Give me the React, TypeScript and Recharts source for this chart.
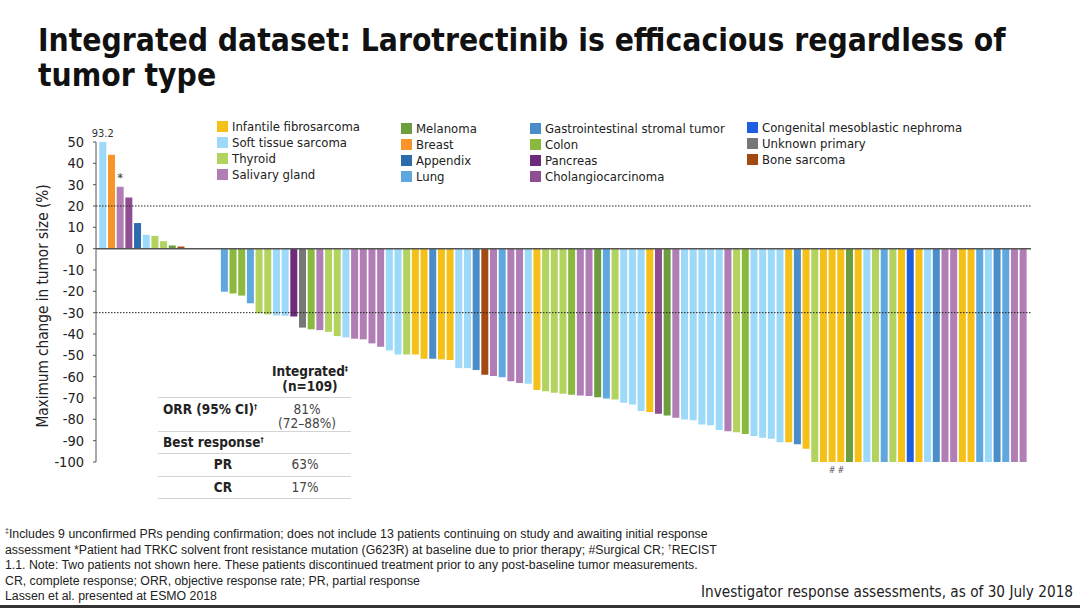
import React from 'react';
import { BarChart, Bar, XAxis, YAxis, Cell, ReferenceLine, LabelList } from 'recharts';

const FONT = '"DejaVu Sans Condensed", "DejaVu Sans", sans-serif';
const NARROW = '"Liberation Sans Narrow", "Liberation Sans", sans-serif';

// Tumour types and their swatch colours.
const tumorTypes: Record<string, { name: string; color: string }> = {
  IFS: { name: 'Infantile fibrosarcoma', color: '#F5C118' },
  STS: { name: 'Soft tissue sarcoma', color: '#9DD9F8' },
  THY: { name: 'Thyroid', color: '#B2D35E' },
  SAL: { name: 'Salivary gland', color: '#B07DB5' },
  MEL: { name: 'Melanoma', color: '#6C9E3F' },
  BRE: { name: 'Breast', color: '#F7952B' },
  APP: { name: 'Appendix', color: '#2D6BAF' },
  LUN: { name: 'Lung', color: '#5FA8DD' },
  GIST: { name: 'Gastrointestinal stromal tumor', color: '#4A8DC8' },
  COL: { name: 'Colon', color: '#8AB93E' },
  PAN: { name: 'Pancreas', color: '#6E2B7B' },
  CHO: { name: 'Cholangiocarcinoma', color: '#8F4E92' },
  CMN: { name: 'Congenital mesoblastic nephroma', color: '#1E5FE2' },
  UNK: { name: 'Unknown primary', color: '#777777' },
  BON: { name: 'Bone sarcoma', color: '#A24A12' },
};

const legendColumns = [
  ['IFS', 'STS', 'THY', 'SAL'],
  ['MEL', 'BRE', 'APP', 'LUN'],
  ['GIST', 'COL', 'PAN', 'CHO'],
  ['CMN', 'UNK', 'BON'],
];

// Maximum change in tumour size (%), one per patient, waterfall order.
const changeValues = [
  93.2, 44, 29, 24, 12, 6.5, 6, 3.5, 1.5, 1,
  0, 0, 0, 0,
  -20.2, -21, -22, -25.6, -30.3, -30.8, -31.3, -31.5, -31.8, -37,
  -37.8, -38.2, -39, -41, -41.6, -42.2, -42.5, -44.4, -46, -47.7,
  -49.6, -49.6, -49.6, -51.6, -51.6, -51.9, -52.2, -56, -56, -56.9,
  -59.1, -59.7, -60.3, -62.1, -63, -63.3, -66.3, -66.8, -67.5, -68,
  -68.5, -68.8, -69.1, -69.7, -70.2, -70.7, -72.2, -73, -76.1, -76.6,
  -77.4, -78.2, -79.3, -80.1, -80.4, -82.4, -82.8, -85, -85.6, -86,
  -86.9, -87.8, -88.6, -89.1, -90.7, -90.7, -91.7, -93.8, -100, -100,
  -100, -100, -100, -100, -100, -100, -100, -100, -100, -100,
  -100, -100, -100, -100, -100, -100, -100, -100, -100, -100,
  -100, -100, -100,
];

const tumorCodes = [
  'STS', 'BRE', 'SAL', 'CHO', 'APP', 'STS', 'THY', 'THY', 'MEL', 'BON',
  'STS', 'STS', 'STS', 'STS',
  'LUN', 'COL', 'COL', 'LUN', 'THY', 'THY', 'STS', 'STS', 'PAN', 'UNK',
  'COL', 'SAL', 'THY', 'THY', 'STS', 'SAL', 'SAL', 'SAL', 'SAL', 'STS',
  'STS', 'THY', 'IFS', 'IFS', 'GIST', 'IFS', 'IFS', 'STS', 'STS', 'GIST',
  'BON', 'SAL', 'LUN', 'SAL', 'SAL', 'STS', 'IFS', 'THY', 'THY', 'THY',
  'COL', 'SAL', 'SAL', 'MEL', 'LUN', 'THY', 'STS', 'STS', 'STS', 'IFS',
  'CHO', 'MEL', 'SAL', 'STS', 'STS', 'STS', 'STS', 'STS', 'SAL', 'THY',
  'COL', 'STS', 'STS', 'STS', 'STS', 'IFS', 'GIST', 'IFS', 'THY', 'IFS',
  'IFS', 'IFS', 'MEL', 'IFS', 'STS', 'THY', 'LUN', 'THY', 'IFS', 'CMN',
  'IFS', 'STS', 'GIST', 'SAL', 'SAL', 'IFS', 'IFS', 'LUN', 'STS', 'GIST',
  'LUN', 'SAL', 'SAL',
];

// Annotations: patient index -> text
const topMarks: Record<number, string> = { 0: '93.2', 2: '*' };
const bottomMarks: Record<number, string> = { 84: '#', 85: '#' };

const yTicks = [50, 40, 30, 20, 10, 0, -10, -20, -30, -40, -50, -60, -70, -80, -90, -100];
const Y_MAX = 50;
const Y_MIN = -100;

const chartData = changeValues.map((v, i) => ({
  id: String(i + 1),
  value: v,
  shown: Math.min(v, Y_MAX), // bars above the axis max are drawn to the top
  code: tumorCodes[i],
  top: topMarks[i] ?? '',
  bottom: bottomMarks[i] ?? '',
}));

const supStyle: React.CSSProperties = { fontSize: 7, lineHeight: 0, verticalAlign: 'super' };

const footnotes = [
  <><span style={supStyle}>‡</span>Includes 9 unconfirmed PRs pending confirmation; does not include 13 patients continuing on study and awaiting initial response</>,
  <>assessment *Patient had TRKC solvent front resistance mutation (G623R) at baseline due to prior therapy; #Surgical CR; <span style={supStyle}>†</span>RECIST</>,
  <>1.1. Note: Two patients not shown here. These patients discontinued treatment prior to any post-baseline tumor measurements.</>,
  <>CR, complete response; ORR, objective response rate; PR, partial response</>,
  <>Lassen et al. presented at ESMO 2018</>,
];

const TopMark = (props: any) => {
  const { x, y, width, height, value } = props;
  if (!value) return null;
  const top = Math.min(y, y + height);
  return (
    <text x={x + width / 2} y={top - 5} textAnchor="middle" fontSize={value === '*' ? 13 : 11} fill="#333" fontFamily={FONT}>
      {value}
    </text>
  );
};

const BottomMark = (props: any) => {
  const { x, y, width, height, value } = props;
  if (!value) return null;
  const bottom = Math.max(y, y + height);
  return (
    <text x={x + width / 2} y={bottom + 11} textAnchor="middle" fontSize={9} fill="#555" fontFamily={FONT}>
      {value}
    </text>
  );
};

const YLabel = (props: any) => {
  const vb = props.viewBox;
  const cx = vb.x + 43;
  const cy = vb.y + vb.height / 2 + 4;
  return (
    <text x={cx} y={cy} transform={`rotate(-90, ${cx}, ${cy})`} textAnchor="middle" dominantBaseline="central" fontSize={15.2} fill="#222" fontFamily={FONT}>
      Maximum change in tumor size (%)
    </text>
  );
};

const legendLeft = [217, 401, 530, 747];
const legendTop = [118, 120, 120, 119];

function Legend() {
  return (
    <>
      {legendColumns.map((col, ci) => (
        <div key={ci} style={{ position: 'absolute', left: legendLeft[ci], top: legendTop[ci] }}>
          {col.map((k) => (
            <div key={k} style={{ display: 'flex', alignItems: 'center', height: 16, fontFamily: FONT, fontSize: 13, color: '#222', whiteSpace: 'nowrap' }}>
              <span style={{ display: 'inline-block', width: 11, height: 11, background: tumorTypes[k].color, marginRight: 4 }} />
              {tumorTypes[k].name}
            </div>
          ))}
        </div>
      ))}
    </>
  );
}

function Table() {
  const line = (top: number) => (
    <div style={{ position: 'absolute', left: 158, top, width: 193, height: 1, background: '#d4d4d4' }} />
  );
  const cell = (text: React.ReactNode, left: number, top: number, bold: boolean, align: 'left' | 'center' = 'left', width = 120) => (
    <div style={{ position: 'absolute', left, top: top - 8, width, height: 16, lineHeight: '16px', textAlign: align, fontFamily: FONT, fontSize: 13.5, fontWeight: bold ? 700 : 400, color: bold ? '#222' : '#444', whiteSpace: 'nowrap' }}>
      {text}
    </div>
  );
  return (
    <div style={{ position: 'absolute', left: 0, top: 0 }}>
      {cell(<>Integrated<span style={supStyle}>‡</span></>, 250, 371, true, 'center')}
      {cell('(n=109)', 250, 386, true, 'center')}
      {line(397)}
      {cell(<>ORR (95% CI)<span style={supStyle}>†</span></>, 163, 409, true)}
      {cell('81%', 247, 409, false, 'center')}
      {cell('(72–88%)', 247, 423, false, 'center')}
      {line(431)}
      {cell(<>Best response<span style={supStyle}>†</span></>, 163, 442, true)}
      {line(453)}
      {cell('PR', 163, 464, true, 'center', 120)}
      {cell('63%', 245, 464, false, 'center')}
      {line(476)}
      {cell('CR', 163, 487, true, 'center', 120)}
      {cell('17%', 245, 487, false, 'center')}
      {line(498)}
    </div>
  );
}

export default function App() {
  return (
    <div style={{ position: 'absolute', left: 0, top: 0, width: 1080, height: 608, background: '#fff', overflow: 'hidden' }}>
      <div style={{ position: 'absolute', left: 38, top: 23, fontFamily: FONT, fontWeight: 700, fontSize: 31.5, lineHeight: '35px', color: '#111', whiteSpace: 'nowrap' }}>
        Integrated dataset: Larotrectinib is efficacious regardless of
        <br />
        tumor type
      </div>

      <div style={{ position: 'absolute', left: 0, top: 0 }}>
        <BarChart width={1080} height={608} data={chartData} margin={{ top: 142, right: 49, bottom: 146, left: 0 }} barCategoryGap="7%">
          <XAxis dataKey="id" hide padding={{ left: 2.7, right: 3.3 }} />
          <YAxis
            width={96}
            domain={[Y_MIN, Y_MAX]}
            ticks={yTicks}
            allowDataOverflow
            interval={0}
            tickSize={3}
            tickMargin={9}
            axisLine={{ stroke: '#555' }}
            tickLine={{ stroke: '#555' }}
            tick={{ fontSize: 14.5, fill: '#222', fontFamily: FONT }}
            label={<YLabel />}
          />
          <Bar dataKey="shown" isAnimationActive={false}>
            {chartData.map((d) => (
              <Cell key={d.id} fill={tumorTypes[d.code].color} />
            ))}
            <LabelList dataKey="top" content={<TopMark />} />
            <LabelList dataKey="bottom" content={<BottomMark />} />
          </Bar>
          <ReferenceLine y={20} stroke="#222" strokeDasharray="1.5 1.5" />
          <ReferenceLine y={-30} stroke="#222" strokeDasharray="1.5 1.5" />
          <ReferenceLine y={0} stroke="#555" strokeWidth={1.5} />
        </BarChart>
      </div>

      <Legend />
      <Table />

      <div style={{ position: 'absolute', left: 5, top: 527, fontFamily: NARROW, fontSize: 12.3, lineHeight: '15.5px', color: '#222', whiteSpace: 'nowrap' }}>
        {footnotes.map((f, i) => (
          <div key={i}>{f}</div>
        ))}
      </div>
      <div style={{ position: 'absolute', left: 701, top: 583, fontFamily: FONT, fontSize: 15.2, lineHeight: '18px', color: '#222', whiteSpace: 'nowrap' }}>
        Investigator response assessments, as of 30 July 2018
      </div>
      <div style={{ position: 'absolute', left: 0, top: 605, width: 1080, height: 3, background: '#333' }} />
    </div>
  );
}
